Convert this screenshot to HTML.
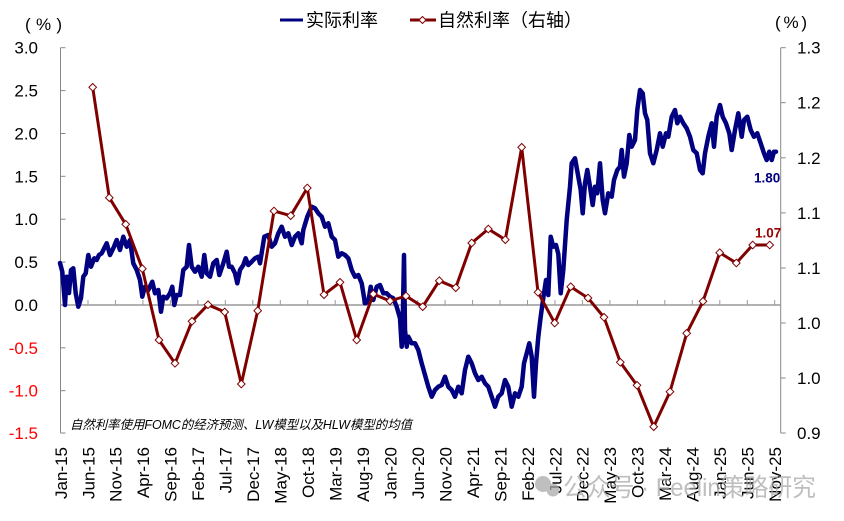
<!DOCTYPE html>
<html><head><meta charset="utf-8"><style>
html,body{margin:0;padding:0;background:#fff;}
svg{display:block;}
text{font-family:"Liberation Sans","Noto Sans CJK SC",sans-serif;}
</style></head><body>
<svg width="844" height="521" viewBox="0 0 844 521" xmlns="http://www.w3.org/2000/svg">
<rect width="844" height="521" fill="#fff"/>
<!-- legend -->
<line x1="280" y1="20" x2="303" y2="20" stroke="#000080" stroke-width="3"/>
<text x="306" y="26.5" font-size="18" fill="#000" font-family="Noto Sans CJK SC, sans-serif">实际利率</text>
<line x1="410" y1="20" x2="436" y2="20" stroke="#800000" stroke-width="3"/>
<path d="M422.5,16.5 L426,20 L422.5,23.5 L419,20 Z" fill="#fff" stroke="#800000" stroke-width="1"/>
<text x="438" y="26.5" font-size="18" fill="#000" font-family="Noto Sans CJK SC, sans-serif">自然利率（右轴）</text>
<!-- unit labels -->
<text x="25" y="30" font-size="17" textLength="37" lengthAdjust="spacing" fill="#000">(%)</text>
<text x="775" y="28" font-size="17" textLength="32" lengthAdjust="spacing" fill="#000">(%)</text>
<!-- axes -->
<g stroke="#888" stroke-width="1" fill="none">
<line x1="60.5" y1="47.7" x2="60.5" y2="433"/>
<line x1="60.5" y1="47.7" x2="65.5" y2="47.7"/>
<line x1="60.5" y1="90.6" x2="65.5" y2="90.6"/>
<line x1="60.5" y1="133.5" x2="65.5" y2="133.5"/>
<line x1="60.5" y1="176.3" x2="65.5" y2="176.3"/>
<line x1="60.5" y1="219.2" x2="65.5" y2="219.2"/>
<line x1="60.5" y1="262.1" x2="65.5" y2="262.1"/>
<line x1="60.5" y1="347.8" x2="65.5" y2="347.8"/>
<line x1="60.5" y1="390.7" x2="65.5" y2="390.7"/>
<line x1="60.5" y1="433" x2="65.5" y2="433"/>
<line x1="780.7" y1="47.7" x2="780.7" y2="433"/>
<line x1="780.7" y1="47.7" x2="785.7" y2="47.7"/>
<line x1="780.7" y1="102.7" x2="785.7" y2="102.7"/>
<line x1="780.7" y1="157.8" x2="785.7" y2="157.8"/>
<line x1="780.7" y1="212.9" x2="785.7" y2="212.9"/>
<line x1="780.7" y1="268" x2="785.7" y2="268"/>
<line x1="780.7" y1="323" x2="785.7" y2="323"/>
<line x1="780.7" y1="378" x2="785.7" y2="378"/>
<line x1="780.7" y1="433" x2="785.7" y2="433"/>
</g>
<g stroke="#999" stroke-width="1.5" fill="none">
<line x1="60.5" y1="305" x2="780.7" y2="305"/>
</g>
<g stroke="#999" stroke-width="1">
<line x1="88" y1="300" x2="88" y2="305"/><line x1="115.4" y1="300" x2="115.4" y2="305"/><line x1="142.9" y1="300" x2="142.9" y2="305"/><line x1="170.4" y1="300" x2="170.4" y2="305"/><line x1="197.9" y1="300" x2="197.9" y2="305"/><line x1="225.3" y1="300" x2="225.3" y2="305"/><line x1="252.8" y1="300" x2="252.8" y2="305"/><line x1="280.3" y1="300" x2="280.3" y2="305"/><line x1="307.7" y1="300" x2="307.7" y2="305"/><line x1="335.2" y1="300" x2="335.2" y2="305"/><line x1="362.7" y1="300" x2="362.7" y2="305"/><line x1="390.1" y1="300" x2="390.1" y2="305"/><line x1="417.6" y1="300" x2="417.6" y2="305"/><line x1="445.1" y1="300" x2="445.1" y2="305"/><line x1="472.6" y1="300" x2="472.6" y2="305"/><line x1="500" y1="300" x2="500" y2="305"/><line x1="527.5" y1="300" x2="527.5" y2="305"/><line x1="555" y1="300" x2="555" y2="305"/><line x1="582.4" y1="300" x2="582.4" y2="305"/><line x1="609.9" y1="300" x2="609.9" y2="305"/><line x1="637.4" y1="300" x2="637.4" y2="305"/><line x1="664.8" y1="300" x2="664.8" y2="305"/><line x1="692.3" y1="300" x2="692.3" y2="305"/><line x1="719.8" y1="300" x2="719.8" y2="305"/><line x1="747.3" y1="300" x2="747.3" y2="305"/><line x1="774.7" y1="300" x2="774.7" y2="305"/>
</g>
<!-- left labels -->
<g font-size="17" text-anchor="end" fill="#000">
<text x="38" y="53.7">3.0</text>
<text x="38" y="96.6">2.5</text>
<text x="38" y="139.5">2.0</text>
<text x="38" y="182.3">1.5</text>
<text x="38" y="225.2">1.0</text>
<text x="38" y="268.1">0.5</text>
<text x="38" y="311">0.0</text>
<text x="38" y="353.8" fill="#ff0000">-0.5</text>
<text x="38" y="396.7" fill="#ff0000">-1.0</text>
<text x="38" y="439" fill="#ff0000">-1.5</text>
</g>
<!-- right labels -->
<g font-size="17" fill="#000">
<text x="797" y="53.7">1.3</text>
<text x="797" y="108.7">1.2</text>
<text x="797" y="163.8">1.2</text>
<text x="797" y="218.9">1.1</text>
<text x="797" y="274">1.1</text>
<text x="797" y="329">1.0</text>
<text x="797" y="384">1.0</text>
<text x="797" y="439">0.9</text>
</g>
<!-- x labels -->
<g font-size="17" text-anchor="end" fill="#000">
<text transform="translate(60.8,447) rotate(-90)" y="6">Jan-15</text>
<text transform="translate(88.3,447) rotate(-90)" y="6">Jun-15</text>
<text transform="translate(115.7,447) rotate(-90)" y="6">Nov-15</text>
<text transform="translate(143.2,447) rotate(-90)" y="6">Apr-16</text>
<text transform="translate(170.7,447) rotate(-90)" y="6">Sep-16</text>
<text transform="translate(198.2,447) rotate(-90)" y="6">Feb-17</text>
<text transform="translate(225.6,447) rotate(-90)" y="6">Jul-17</text>
<text transform="translate(253.1,447) rotate(-90)" y="6">Dec-17</text>
<text transform="translate(280.6,447) rotate(-90)" y="6">May-18</text>
<text transform="translate(308,447) rotate(-90)" y="6">Oct-18</text>
<text transform="translate(335.5,447) rotate(-90)" y="6">Mar-19</text>
<text transform="translate(363,447) rotate(-90)" y="6">Aug-19</text>
<text transform="translate(390.4,447) rotate(-90)" y="6">Jan-20</text>
<text transform="translate(417.9,447) rotate(-90)" y="6">Jun-20</text>
<text transform="translate(445.4,447) rotate(-90)" y="6">Nov-20</text>
<text transform="translate(472.9,447) rotate(-90)" y="6">Apr-21</text>
<text transform="translate(500.3,447) rotate(-90)" y="6">Sep-21</text>
<text transform="translate(527.8,447) rotate(-90)" y="6">Feb-22</text>
<text transform="translate(555.3,447) rotate(-90)" y="6">Jul-22</text>
<text transform="translate(582.7,447) rotate(-90)" y="6">Dec-22</text>
<text transform="translate(610.2,447) rotate(-90)" y="6">May-23</text>
<text transform="translate(637.7,447) rotate(-90)" y="6">Oct-23</text>
<text transform="translate(665.1,447) rotate(-90)" y="6">Mar-24</text>
<text transform="translate(692.6,447) rotate(-90)" y="6">Aug-24</text>
<text transform="translate(720.1,447) rotate(-90)" y="6">Jan-25</text>
<text transform="translate(747.6,447) rotate(-90)" y="6">Jun-25</text>
<text transform="translate(775,447) rotate(-90)" y="6">Nov-25</text>
</g>
<!-- blue series -->
<polyline fill="none" stroke="#000080" stroke-width="4.5" stroke-linejoin="round" stroke-linecap="round" points="60,263 62.3,271.7 65,305 66.7,276.7 69,293 71,270 73.3,268.3 75.7,293.3 78.3,306.7 81,298 83.3,276.7 85.7,273.3 88.3,255 91,266.7 94.3,258.3 96.7,260 99,255 101.7,253.3 106.7,243.3 110,255 113.3,248.3 116.7,240 120,250 123.3,236.7 126.7,246.7 130,240 133.3,263.3 136.7,270 140,280 142.3,296.7 145,286.7 148.3,290 152.3,281.7 155,293.3 158.3,290 161,311.7 163.3,296.7 166.7,298.3 170,293.3 172.3,286.7 174.3,305 176.7,295 180,295 183.3,270 186.7,266.7 189,245 191.7,266.7 195,271.7 198.3,266.7 201.7,276.7 204.3,255 206.7,273.3 210,276.7 213.3,263.3 216.7,260 219.3,275 223.3,263.3 226.7,251.7 229,266.7 231.7,266.7 235,273.3 237.3,283.3 240,270 243.3,265 245.7,258.3 248.3,265 251.7,261.7 255,258.3 258.3,256.7 260,263.3 264.3,236.7 268.3,235 271.7,246.7 275,243.3 278.3,233.3 281.7,226.7 285,236.7 288.3,233.3 291.7,245 295,236.7 298.3,233.3 301.7,243.3 303.3,230 307.3,216.7 311.7,206.7 315,208.3 318.3,213.3 321.7,216.7 325,226.7 328.3,223.3 331.7,236.7 335,240 338.3,256.7 341.7,253.3 345,255 348.3,258.3 351.7,270 355,276.7 358.3,275 361.7,283.3 365,303.3 368.3,301.7 370.7,286.7 373.3,300 376.7,286.7 380,285 383.3,293.3 386.7,293.3 390,296.7 393.3,298.3 396.7,306.7 400,318.3 401.7,346.7 402.7,323.3 404,255 405,330 406.7,346.7 408.3,336.7 411.7,343.3 415,343.3 418.3,350 421.7,363.3 425,375 428.3,386.7 431.7,396.7 435,390 438.3,386.7 441.7,385 445,376.7 448.3,386.7 451.7,390 455,396.7 458.3,386.7 461.7,393.3 465,370 468.3,356.7 471.7,363.3 475,373.3 478.3,380 481.7,376.7 485,383.3 488.3,386.7 491.7,396.7 495,406.7 498.3,396.7 501.7,393.3 505,380 508.3,386.7 511.7,406.7 515,393.3 518.3,396.7 521.7,386.7 524,363.3 526.7,353.3 529.3,343.3 531.7,356.7 534,396.7 536,363.3 538.3,336.7 540.7,316.7 543.3,298 546,280 548.3,295 550.7,236.7 553.3,246.7 556,245 558.3,254 560.7,293.3 563.3,270 566.7,220 570,186.7 571.7,163.3 575,158.3 578.3,176.7 580.7,190 582.7,213.3 585,183.3 587.3,170 590,186.7 592.7,205 595,186.7 597.3,193.3 600,163.3 602.7,200 605,213.3 608.3,193.3 611.7,196.7 614,180 617.3,170 620,166.7 621.7,150 624,176.7 626.7,163.3 629.3,135 631.7,146.7 635,140 637.3,110 640,90 642.7,93.3 645,113.3 647.3,120 650,153.3 653.3,163.3 656.7,150 660,133.3 662.7,146.7 666,133.3 668.3,136.7 671.7,116.7 675,110 677.3,123.3 680,116.7 683.3,123.3 686.7,128.3 690,136.7 693.3,150 696.7,153.3 700,170 702.7,173.3 705,153.3 708.3,136.7 711.7,123.3 714,146.7 716.7,116.7 720,105 722.7,116.7 726,123.3 729.3,133.3 731.7,150 735,130 738.3,113.3 741.7,136.7 744,120 747.3,116.7 750.7,130 754,136.7 757.3,133.3 760.7,143.3 764,153.3 766.7,160 769.3,151.7 771.7,160 774,151.7 776,151.7"/>
<!-- red series -->
<polyline fill="none" stroke="#800000" stroke-width="3" stroke-linejoin="round" points="92.7,87.3 109.3,197.7 125.7,224.3 142.3,268.7 159,340 175,363.3 192,321.3 208,304.7 224.7,312 241.3,384 257.7,310.7 274,211 290.7,215.7 307.3,188 324,294.7 340,282.3 356.7,340 373.3,294 390,301 406,296 422.7,306.7 439.3,280.7 455.7,287.7 471.7,243 488.3,229 505.3,239.7 521.7,147.3 538,292.3 554.7,323 570.7,286.7 588,298 604,317.3 620.3,362.3 637,385.3 653.7,426.7 670,391.7 686.7,333.3 703,301.3 719.7,252.7 736.3,263 752.7,245 769.7,245"/>
<g fill="#fff" stroke="#800000" stroke-width="1">
<path d="M92.7,83.5l3.8,3.8l-3.8,3.8l-3.8,-3.8z"/>
<path d="M109.3,193.9l3.8,3.8l-3.8,3.8l-3.8,-3.8z"/>
<path d="M125.7,220.5l3.8,3.8l-3.8,3.8l-3.8,-3.8z"/>
<path d="M142.3,264.9l3.8,3.8l-3.8,3.8l-3.8,-3.8z"/>
<path d="M159,336.2l3.8,3.8l-3.8,3.8l-3.8,-3.8z"/>
<path d="M175,359.5l3.8,3.8l-3.8,3.8l-3.8,-3.8z"/>
<path d="M192,317.5l3.8,3.8l-3.8,3.8l-3.8,-3.8z"/>
<path d="M208,300.9l3.8,3.8l-3.8,3.8l-3.8,-3.8z"/>
<path d="M224.7,308.2l3.8,3.8l-3.8,3.8l-3.8,-3.8z"/>
<path d="M241.3,380.2l3.8,3.8l-3.8,3.8l-3.8,-3.8z"/>
<path d="M257.7,306.9l3.8,3.8l-3.8,3.8l-3.8,-3.8z"/>
<path d="M274,207.2l3.8,3.8l-3.8,3.8l-3.8,-3.8z"/>
<path d="M290.7,211.9l3.8,3.8l-3.8,3.8l-3.8,-3.8z"/>
<path d="M307.3,184.2l3.8,3.8l-3.8,3.8l-3.8,-3.8z"/>
<path d="M324,290.9l3.8,3.8l-3.8,3.8l-3.8,-3.8z"/>
<path d="M340,278.5l3.8,3.8l-3.8,3.8l-3.8,-3.8z"/>
<path d="M356.7,336.2l3.8,3.8l-3.8,3.8l-3.8,-3.8z"/>
<path d="M373.3,290.2l3.8,3.8l-3.8,3.8l-3.8,-3.8z"/>
<path d="M390,297.2l3.8,3.8l-3.8,3.8l-3.8,-3.8z"/>
<path d="M406,292.2l3.8,3.8l-3.8,3.8l-3.8,-3.8z"/>
<path d="M422.7,302.9l3.8,3.8l-3.8,3.8l-3.8,-3.8z"/>
<path d="M439.3,276.9l3.8,3.8l-3.8,3.8l-3.8,-3.8z"/>
<path d="M455.7,283.9l3.8,3.8l-3.8,3.8l-3.8,-3.8z"/>
<path d="M471.7,239.2l3.8,3.8l-3.8,3.8l-3.8,-3.8z"/>
<path d="M488.3,225.2l3.8,3.8l-3.8,3.8l-3.8,-3.8z"/>
<path d="M505.3,235.9l3.8,3.8l-3.8,3.8l-3.8,-3.8z"/>
<path d="M521.7,143.5l3.8,3.8l-3.8,3.8l-3.8,-3.8z"/>
<path d="M538,288.5l3.8,3.8l-3.8,3.8l-3.8,-3.8z"/>
<path d="M554.7,319.2l3.8,3.8l-3.8,3.8l-3.8,-3.8z"/>
<path d="M570.7,282.9l3.8,3.8l-3.8,3.8l-3.8,-3.8z"/>
<path d="M588,294.2l3.8,3.8l-3.8,3.8l-3.8,-3.8z"/>
<path d="M604,313.5l3.8,3.8l-3.8,3.8l-3.8,-3.8z"/>
<path d="M620.3,358.5l3.8,3.8l-3.8,3.8l-3.8,-3.8z"/>
<path d="M637,381.5l3.8,3.8l-3.8,3.8l-3.8,-3.8z"/>
<path d="M653.7,422.9l3.8,3.8l-3.8,3.8l-3.8,-3.8z"/>
<path d="M670,387.9l3.8,3.8l-3.8,3.8l-3.8,-3.8z"/>
<path d="M686.7,329.5l3.8,3.8l-3.8,3.8l-3.8,-3.8z"/>
<path d="M703,297.5l3.8,3.8l-3.8,3.8l-3.8,-3.8z"/>
<path d="M719.7,248.9l3.8,3.8l-3.8,3.8l-3.8,-3.8z"/>
<path d="M736.3,259.2l3.8,3.8l-3.8,3.8l-3.8,-3.8z"/>
<path d="M752.7,241.2l3.8,3.8l-3.8,3.8l-3.8,-3.8z"/>
<path d="M769.7,241.2l3.8,3.8l-3.8,3.8l-3.8,-3.8z"/>
</g>
<!-- annotations -->
<text x="754" y="182.7" font-size="13.5" font-weight="bold" fill="#000080">1.80</text>
<text x="755" y="237.5" font-size="13.5" font-weight="bold" fill="#990000">1.07</text>
<text x="70" y="429" font-size="12.5" font-style="italic" fill="#000" textLength="342" lengthAdjust="spacingAndGlyphs">自然利率使用FOMC的经济预测、LW模型以及HLW模型的均值</text>
<!-- watermark -->
<g opacity="0.75">
<circle cx="543" cy="484" r="8" fill="#aaa"/>
<circle cx="553" cy="490" r="6.5" fill="#aaa"/>
<text x="563" y="496" font-size="25" fill="#aaa" textLength="253" lengthAdjust="spacingAndGlyphs" font-family="Noto Sans CJK SC, sans-serif">公众号 · Feelin策略研究</text>
</g>
</svg>
</body></html>
